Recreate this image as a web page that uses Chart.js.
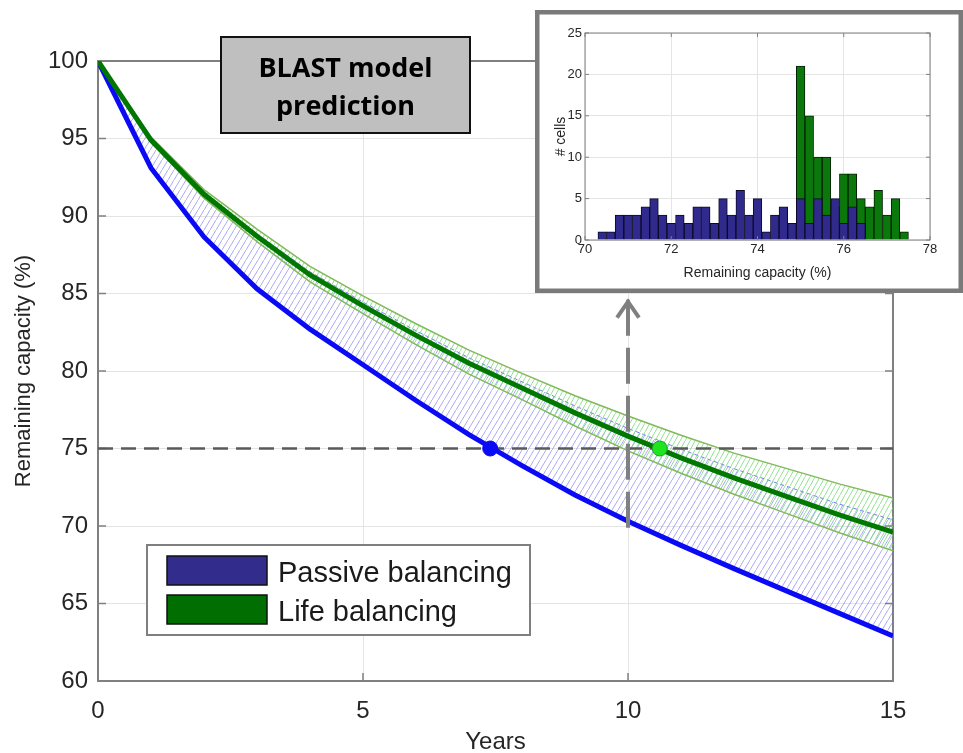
<!DOCTYPE html>
<html>
<head>
<meta charset="utf-8">
<script src="https://cdn.jsdelivr.net/npm/chart.js@4.4.1/dist/chart.umd.min.js"></script>
<style>
  html, body { margin: 0; padding: 0; background: #fff; overflow: hidden; }
  #wrap { position: relative; width: 963px; height: 753px; }
  #main { position: absolute; left: 0; top: 0; }
  #inset { position: absolute; left: 535px; top: 10px; background: #fff; }
</style>
</head>
<body>
<div id="wrap">
  <canvas id="main" width="963" height="753"></canvas>
  <canvas id="inset" width="428" height="283"></canvas>
</div>
<script>
// main plot: remaining capacity vs years (BLAST prediction)
const years = [0, 1, 2, 3, 4, 5, 6, 7, 8, 9, 10, 11, 12, 13, 14, 15];
const passiveBalancing = [100, 93.1, 88.65, 85.3, 82.7, 80.4, 78.1, 75.9, 73.9, 72.0, 70.3, 68.75, 67.25, 65.8, 64.35, 62.9];
const passiveBandTop = [100, 94.95, 91.5, 88.85, 86.4, 84.45, 82.6, 80.85, 79.3, 77.75, 76.3, 74.95, 73.7, 72.55, 71.4, 70.4];
const lifeBalancing = [100, 94.9, 91.4, 88.7, 86.2, 84.2, 82.3, 80.5, 78.9, 77.3, 75.8, 74.4, 73.1, 71.9, 70.7, 69.6];
const lifeBandTop = [100, 95.1, 91.7, 89.15, 86.75, 84.85, 83.05, 81.35, 79.85, 78.4, 77.1, 75.85, 74.7, 73.7, 72.7, 71.8];
const lifeBandBottom = [100, 94.75, 91.15, 88.35, 85.75, 83.7, 81.7, 79.8, 78.15, 76.45, 74.85, 73.4, 72.05, 70.8, 69.55, 68.4];

const eolLevel = 75;
const passiveEol = [7.4, 75];
const lifeEol = [10.6, 75];
const arrowYear = 10;
const arrowSpan = [84.6, 69.3];   // top (head) to bottom

const yearTicks = [0, 5, 10, 15];
const capacityTicks = [60, 65, 70, 75, 80, 85, 90, 95, 100];

// inset histogram: remaining capacity after 10 years
const passiveBins = [70.4, 70.6, 70.8, 71.0, 71.2, 71.4, 71.6, 71.8, 72.0, 72.2, 72.4, 72.6, 72.8, 73.0, 73.2, 73.4,
                     73.6, 73.8, 74.0, 74.2, 74.4, 74.6, 74.8, 75.0, 75.2, 75.4, 75.6, 75.8, 76.0, 76.2, 76.4];
const passiveCounts = [1, 1, 3, 3, 3, 4, 5, 3, 2, 3, 2, 4, 4, 2, 5, 3,
                       6, 3, 5, 1, 3, 4, 2, 5, 2, 5, 3, 5, 2, 4, 2];
const lifeBins = [75.0, 75.2, 75.4, 75.6, 75.8, 76.0, 76.2, 76.4, 76.6, 76.8, 77.0, 77.2, 77.4];
const lifeCounts = [21, 15, 10, 10, 4, 8, 8, 5, 4, 6, 3, 5, 1];
const histXTicks = [70, 72, 74, 76, 78];
const histYTicks = [0, 5, 10, 15, 20, 25];

const FONT = "'Liberation Sans', Arial, sans-serif";
const TEXT = '#262626';
const GRID = '#e4e4e4';
const BOX = '#808080';

function hatch(color, w, h) {
    const c = document.createElement('canvas');
    c.width = w; c.height = h;
    const g = c.getContext('2d');
    g.strokeStyle = color;
    g.lineWidth = 1;
    g.beginPath();
    g.moveTo(-w, 2 * h);
    g.lineTo(2 * w, -h);
    g.stroke();
    return g.createPattern(c, 'repeat');
}

function pts(xs, ys) {
    return xs.map((x, i) => ({ x: x, y: ys[i] }));
}

function setTicks(values) {
    return scale => { scale.ticks = values.map(v => ({ value: v })); };
}

// box, inward ticks, annotation box, arrow head and legend
const mainDecor = {
    id: 'mainDecor',
    beforeDatasetsDraw(chart) {
        const { ctx, chartArea: a, scales: { x, y } } = chart;
        ctx.save();
        ctx.strokeStyle = BOX;
        ctx.lineWidth = 1.5;
        ctx.beginPath();
        yearTicks.forEach(v => {
            const px = x.getPixelForValue(v);
            ctx.moveTo(px, a.bottom); ctx.lineTo(px, a.bottom - 8);
            ctx.moveTo(px, a.top); ctx.lineTo(px, a.top + 8);
        });
        capacityTicks.forEach(v => {
            const py = y.getPixelForValue(v);
            ctx.moveTo(a.left, py); ctx.lineTo(a.left + 8, py);
            ctx.moveTo(a.right, py); ctx.lineTo(a.right - 8, py);
        });
        ctx.stroke();
        ctx.lineWidth = 2;
        ctx.strokeRect(a.left, a.top, a.right - a.left, a.bottom - a.top);
        ctx.restore();
    },
    afterDraw(chart) {
        const { ctx, scales: { x, y } } = chart;
        ctx.save();

        // arrow head
        const tx = x.getPixelForValue(arrowYear);
        const ty = y.getPixelForValue(arrowSpan[0]);
        ctx.strokeStyle = '#808080';
        ctx.lineWidth = 4;
        ctx.beginPath();
        ctx.moveTo(tx - 11, ty + 18);
        ctx.lineTo(tx, ty + 2);
        ctx.lineTo(tx + 11, ty + 18);
        ctx.stroke();

        // BLAST box
        ctx.fillStyle = '#bfbfbf';
        ctx.fillRect(221, 37, 249, 96);
        ctx.strokeStyle = '#111';
        ctx.lineWidth = 2;
        ctx.strokeRect(221, 37, 249, 96);
        ctx.fillStyle = '#000';
        ctx.font = "bold 27px 'Open Sans', sans-serif";
        ctx.textAlign = 'center';
        ctx.textBaseline = 'alphabetic';
        ctx.fillText('BLAST model', 345.5, 77);
        ctx.fillText('prediction', 345.5, 115);

        // legend
        ctx.fillStyle = '#fff';
        ctx.fillRect(147, 545, 383, 90);
        ctx.strokeStyle = '#7f7f7f';
        ctx.lineWidth = 2;
        ctx.strokeRect(147, 545, 383, 90);
        const items = [['Passive balancing', '#322d8c', 556, 582], ['Life balancing', '#006e00', 595, 621]];
        ctx.textAlign = 'left';
        ctx.font = '29px ' + FONT;
        items.forEach(([label, color, top, base]) => {
            ctx.fillStyle = color;
            ctx.fillRect(167, top, 100, 29);
            ctx.strokeStyle = '#111';
            ctx.lineWidth = 1.5;
            ctx.strokeRect(167, top, 100, 29);
            ctx.fillStyle = '#1a1a1a';
            ctx.fillText(label, 278, base);
        });
        ctx.restore();
    }
};

const blueHatch = hatch('rgba(115,115,235,0.6)', 6, 10);
const greenHatch = hatch('rgba(110,215,110,0.75)', 5, 9);

new Chart(document.getElementById('main'), {
    type: 'line',
    data: {
        datasets: [
            { // 0
                label: 'passive band top',
                data: pts(years, passiveBandTop),
                borderColor: 'rgb(125,125,240)', borderWidth: 1, borderDash: [4, 3],
                pointRadius: 0, fill: { target: 3 }, backgroundColor: blueHatch, order: 6
            },
            { // 1
                label: 'life band top',
                data: pts(years, lifeBandTop),
                borderColor: 'rgb(130,185,90)', borderWidth: 1.5,
                pointRadius: 0, fill: false, order: 5
            },
            { // 2
                label: 'life band bottom',
                data: pts(years, lifeBandBottom),
                borderColor: 'rgb(130,185,90)', borderWidth: 1.5,
                pointRadius: 0, fill: { target: 1 }, backgroundColor: greenHatch, order: 5
            },
            { // 3
                label: 'Passive balancing',
                data: pts(years, passiveBalancing),
                borderColor: '#0a0af5', borderWidth: 5,
                pointRadius: 0, fill: false, order: 3
            },
            { // 4
                label: 'Life balancing',
                data: pts(years, lifeBalancing),
                borderColor: '#007800', borderWidth: 5,
                pointRadius: 0, fill: false, order: 2
            },
            { // 5
                label: 'EOL',
                data: [{ x: years[0], y: eolLevel }, { x: years[years.length - 1], y: eolLevel }],
                borderColor: '#5a5a5a', borderWidth: 2.5, borderDash: [15, 8],
                pointRadius: 0, fill: false, order: 4
            },
            { // 6
                label: 'arrow',
                data: [{ x: arrowYear, y: arrowSpan[0] }, { x: arrowYear, y: arrowSpan[1] }],
                borderColor: '#808080', borderWidth: 4, borderDash: [36, 12], borderCapStyle: 'butt',
                pointRadius: 0, fill: false, order: 1
            },
            { // 7
                label: 'passive EOL',
                data: [{ x: passiveEol[0], y: passiveEol[1] }],
                showLine: false, pointRadius: 7.5, pointBackgroundColor: '#0a0af5',
                pointBorderColor: '#0a0af5', pointBorderWidth: 1, order: 0
            },
            { // 8
                label: 'life EOL',
                data: [{ x: lifeEol[0], y: lifeEol[1] }],
                showLine: false, pointRadius: 7.5, pointBackgroundColor: '#1ee61e',
                pointBorderColor: '#2a9a2a', pointBorderWidth: 1, order: 0
            }
        ]
    },
    options: {
        responsive: false,
        animation: false,
        layout: { padding: { top: 61, right: 70, left: 0, bottom: 0 } },
        plugins: {
            legend: { display: false },
            tooltip: { enabled: false },
            filler: { propagate: false }
        },
        scales: {
            x: {
                type: 'linear', min: 0, max: 15, offset: false,
                afterBuildTicks: setTicks(yearTicks),
                afterFit: s => { s.height = 72; },
                grid: { color: GRID, lineWidth: 1, drawTicks: false },
                border: { display: false },
                ticks: { padding: 16, color: TEXT, font: { family: FONT, size: 24 } },
                title: { display: true, text: 'Years', color: TEXT, font: { family: FONT, size: 24 }, padding: { top: 0, bottom: -4 } }
            },
            y: {
                type: 'linear', min: 60, max: 100,
                afterBuildTicks: setTicks(capacityTicks),
                afterFit: s => { s.width = 98; },
                grid: { color: GRID, lineWidth: 1, drawTicks: false },
                border: { display: false },
                ticks: { padding: 10, color: TEXT, font: { family: FONT, size: 24 } },
                title: { display: true, text: 'Remaining capacity (%)', color: TEXT, font: { family: FONT, size: 22 }, padding: { top: 11, bottom: 0 } }
            }
        }
    },
    plugins: [mainDecor]
});

// inset frame, plot box and inward ticks
const insetDecor = {
    id: 'insetDecor',
    afterDraw(chart) {
        const { ctx, chartArea: a, scales: { x, y } } = chart;
        ctx.save();
        ctx.strokeStyle = BOX;
        ctx.lineWidth = 1;
        ctx.beginPath();
        histXTicks.forEach(v => {
            const px = x.getPixelForValue(v);
            ctx.moveTo(px, a.bottom); ctx.lineTo(px, a.bottom - 4);
            ctx.moveTo(px, a.top); ctx.lineTo(px, a.top + 4);
        });
        histYTicks.forEach(v => {
            const py = y.getPixelForValue(v);
            ctx.moveTo(a.left, py); ctx.lineTo(a.left + 4, py);
            ctx.moveTo(a.right, py); ctx.lineTo(a.right - 4, py);
        });
        ctx.stroke();
        ctx.strokeRect(a.left, a.top, a.right - a.left, a.bottom - a.top);
        ctx.strokeStyle = '#7a7a7a';
        ctx.lineWidth = 4.5;
        ctx.strokeRect(2.25, 2.25, chart.width - 4.5, chart.height - 4.5);
        ctx.restore();
    }
};

new Chart(document.getElementById('inset'), {
    type: 'bar',
    data: {
        datasets: [
            {
                label: 'Passive balancing',
                data: pts(passiveBins, passiveCounts),
                backgroundColor: '#302a8c', borderColor: '#0c0a28', borderWidth: 1,
                barPercentage: 1, categoryPercentage: 1, grouped: false
            },
            {
                label: 'Life balancing',
                data: pts(lifeBins, lifeCounts),
                backgroundColor: '#0a780a', borderColor: '#052005', borderWidth: 1,
                barPercentage: 1, categoryPercentage: 1, grouped: false
            }
        ]
    },
    options: {
        responsive: false,
        animation: false,
        layout: { padding: { top: 23, right: 33, left: 0, bottom: 0 } },
        plugins: { legend: { display: false }, tooltip: { enabled: false } },
        scales: {
            x: {
                type: 'linear', min: 70, max: 78, offset: false,
                afterBuildTicks: setTicks(histXTicks),
                afterFit: s => { s.height = 53; },
                grid: { color: GRID, lineWidth: 1, drawTicks: false, offset: false },
                border: { display: false },
                ticks: { padding: 2, color: TEXT, font: { family: FONT, size: 13 } },
                title: { display: true, text: 'Remaining capacity (%)', color: TEXT, font: { family: FONT, size: 14 }, padding: { top: 0, bottom: 11.5 } }
            },
            y: {
                type: 'linear', min: 0, max: 25,
                afterBuildTicks: setTicks(histYTicks),
                afterFit: s => { s.width = 50; },
                grid: { color: GRID, lineWidth: 1, drawTicks: false },
                border: { display: false },
                ticks: { padding: 3, color: TEXT, font: { family: FONT, size: 13 } },
                title: { display: true, text: '# cells', color: TEXT, font: { family: FONT, size: 14 }, padding: { top: 18, bottom: 0 } }
            }
        }
    },
    plugins: [insetDecor]
});
</script>
</body>
</html>
